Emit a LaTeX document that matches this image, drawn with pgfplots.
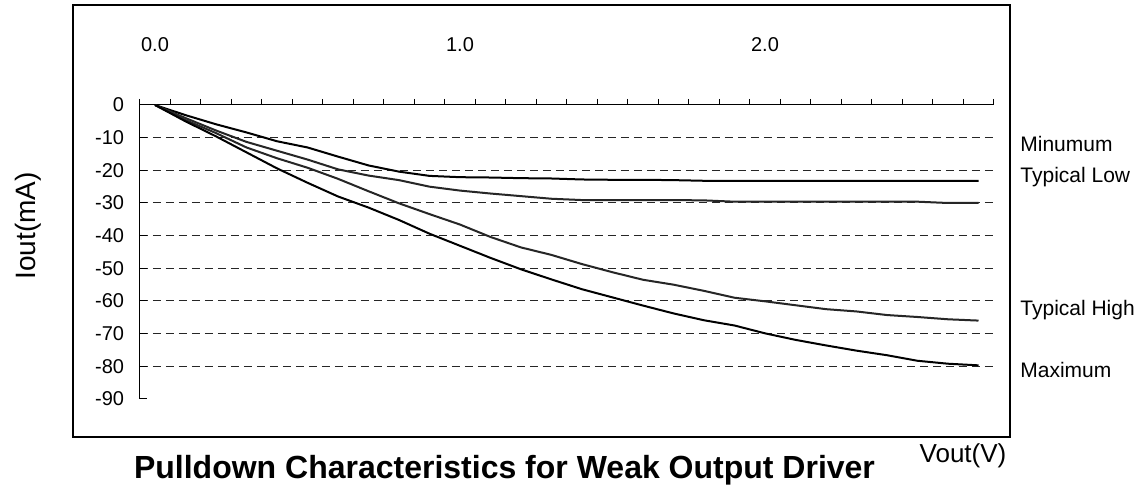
\documentclass[border=0pt]{standalone}
\usepackage{fontspec}
\setmainfont{Liberation Sans}
\usepackage{pgfplots}
\pgfplotsset{compat=1.18}
\usepackage{pgfplotstable}

\pgfplotstableread{
x    A      B      C      D
0.0  0.0    0.0    0.0    0.0
0.1  -3.1   -4.0   -4.6   -5.0
0.2  -5.9   -7.8   -8.6   -9.6
0.3  -8.4   -11.3  -13.0  -14.5
0.4  -11.1  -14.0  -16.3  -19.4
0.5  -13.0  -16.7  -19.2  -23.8
0.6  -15.8  -19.7  -22.6  -28.0
0.7  -18.5  -21.6  -26.4  -31.4
0.8  -20.4  -23.0  -30.1  -35.2
0.9  -21.7  -25.0  -33.4  -39.4
1.0  -22.1  -26.2  -36.6  -43.1
1.1  -22.2  -27.1  -40.4  -46.8
1.2  -22.4  -27.9  -43.6  -50.3
1.3  -22.5  -28.7  -45.9  -53.4
1.4  -22.8  -29.1  -48.7  -56.4
1.5  -22.9  -29.1  -51.2  -58.9
1.6  -22.9  -29.1  -53.5  -61.4
1.7  -23.0  -29.1  -55.0  -63.8
1.8  -23.2  -29.2  -56.9  -65.9
1.9  -23.2  -29.6  -59.0  -67.5
2.0  -23.2  -29.6  -60.1  -69.9
2.1  -23.2  -29.6  -61.3  -71.9
2.2  -23.2  -29.6  -62.5  -73.6
2.3  -23.2  -29.6  -63.2  -75.2
2.4  -23.2  -29.6  -64.3  -76.6
2.5  -23.2  -29.6  -64.9  -78.3
2.6  -23.2  -30.0  -65.6  -79.2
2.7  -23.2  -30.0  -66.0  -79.7
}\datatable

\begin{document}
\begin{tikzpicture}
\useasboundingbox (0,0) rectangle (570pt,-245.5pt);
\fill[white] (0,0) rectangle (570pt,-245.5pt);
\draw[black, line width=0.8pt] (36.5pt,-2.5pt) rectangle (505pt,-218.5pt);
\begin{axis}[
  at={(69.875pt,-52.5pt)}, anchor=north west,
  scale only axis, width=427pt, height=147pt,
  xmin=-0.05, xmax=2.75, ymin=-90, ymax=0,
  axis x line=top, axis y line=left,
  axis line style={-, black, line width=0.5pt},
  /pgf/number format/assume math mode=true,
  tick align=inside,
  xtick={0,1,2}, xticklabels={0.0,1.0,2.0},
  major x tick style={draw=none},
  minor xtick={-0.05,0.05,0.15,0.25,0.35,0.45,0.55,0.65,0.75,0.85,0.95,1.05,1.15,1.25,1.35,1.45,1.55,1.65,1.75,1.85,1.95,2.05,2.15,2.25,2.35,2.45,2.55,2.65,2.75},
  minor tick length=3pt,
  minor x tick style={black, line width=0.5pt, yshift=3pt},
  xticklabel style={anchor=center, yshift=30pt, font=\fontsize{10pt}{11pt}\selectfont},
  ytick={-90,-80,...,0},
  major tick length=3.5pt,
  y tick style={black, line width=0.5pt},
  yticklabel style={font=\fontsize{10pt}{11pt}\selectfont, xshift=-4.3pt},
  extra y ticks={-80,-70,-60,-50,-40,-30,-20,-10},
  extra y tick labels={},
  extra y tick style={grid=major},
  major grid style={black!85, line width=0.5pt, dash pattern=on 4pt off 2.5pt},
  clip=false,
]
\addplot[black, line width=1pt, line join=round] table[x=x, y=A]{\datatable};
\addplot[black!85, line width=1pt, line join=round] table[x=x, y=B]{\datatable};
\addplot[black!85, line width=1pt, line join=round] table[x=x, y=C]{\datatable};
\addplot[black, line width=1pt, line join=round] table[x=x, y=D]{\datatable};
\end{axis}
\begin{scope}[every node/.style={inner sep=0pt, font=\fontsize{10.5pt}{12pt}\selectfont}]
\node[anchor=base west] at (510pt,-75.8pt) {Minumum};
\node[anchor=base west] at (510pt,-91.3pt) {Typical Low};
\node[anchor=base west] at (510pt,-157.8pt) {Typical High};
\node[anchor=base west] at (510pt,-188.8pt) {Maximum};
\end{scope}
\node[rotate=90, inner sep=0pt, font=\fontsize{14pt}{16pt}\selectfont] at (14pt,-113pt) {Iout(mA)};
\node[inner sep=0pt, font=\fontsize{13pt}{15pt}\selectfont] at (481.5pt,-228pt) {Vout(V)};
\node[anchor=base, inner sep=0pt, font=\fontsize{16pt}{18pt}\selectfont\bfseries] at (252.25pt,-239.5pt) {Pulldown Characteristics for Weak Output Driver};
\end{tikzpicture}
\end{document}
